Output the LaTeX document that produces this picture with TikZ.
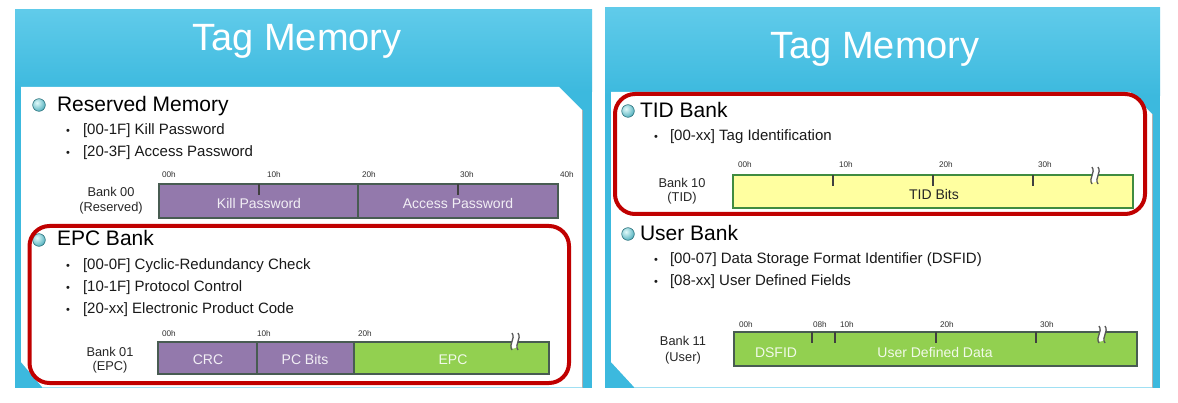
\documentclass[tikz,border=0pt]{standalone}
\usepackage{fontspec}
\setmainfont{Liberation Sans}
\definecolor{hdtop}{RGB}{96,203,234}
\definecolor{hdbot}{RGB}{60,185,222}
\definecolor{redframe}{RGB}{192,0,0}
\definecolor{purp}{RGB}{147,121,172}
\definecolor{grn}{RGB}{146,208,80}
\definecolor{yel}{RGB}{255,255,160}
\definecolor{barline}{RGB}{72,92,82}
\definecolor{ballc}{RGB}{70,170,185}
\definecolor{ballhi}{RGB}{225,250,250}
\definecolor{ballrim}{RGB}{45,115,125}
\tikzset{
 titletxt/.style={font=\fontsize{38}{40}\selectfont, text=white, anchor=base},
 headtxt/.style={font=\fontsize{21}{24}\selectfont, text=black, anchor=base west},
 itemtxt/.style={font=\fontsize{15}{18}\selectfont, text=black!90, anchor=base west},
 dottxt/.style={font=\fontsize{11}{12}\selectfont, text=black!90, anchor=base west},
 hextxt/.style={font=\fontsize{8.2}{9}\selectfont, text=black!80, anchor=base west},
 banktxt/.style={font=\fontsize{12.8}{14}\selectfont, text=black!85, anchor=base},
 barlbl/.style={font=\fontsize{14}{16}\selectfont, text=white, text opacity=0.88, anchor=base},
 darklbl/.style={font=\fontsize{14}{16}\selectfont, text=black!85, anchor=base},
 barfrm/.style={draw=barline, line width=1.4},
 tickln/.style={draw=black!75, line width=1.5},
 redfrm/.style={draw=redframe, line width=4, rounded corners=20},
 breakln/.style={draw=black!65, line width=1.3},
 breakbg/.style={draw=white, line width=5},
}
\newcommand{\ballbullet}[2]{%
  \begin{scope}
    \clip (#1,#2) circle (6.3);
    \shade[inner color=ballhi, outer color=ballc] (#1-2,#2-2.2) circle (9.5);
  \end{scope}
  \draw[ballrim, line width=0.6] (#1,#2) circle (6.3);}
\newcommand{\breakmark}[3]{% x, ytop, ybottom
  \draw[breakbg] (#1+3,#2+2) .. controls (#1+7,#2+6) and (#1-1,#3-6) .. (#1+3,#3-2);
  \draw[breakln] (#1,#2) .. controls (#1+4,#2+6) and (#1-4,#3-6) .. (#1,#3);
  \draw[breakln] (#1+6,#2) .. controls (#1+10,#2+6) and (#1+2,#3-6) .. (#1+6,#3);}
\begin{document}
\begin{tikzpicture}[x=1pt,y=-1pt, every node/.style={inner sep=0pt, outer sep=0pt}]
\useasboundingbox (0,0) rectangle (1178,403);
\fill[white] (0,0) rectangle (1178,403);

% ===== Left panel =====
\fill[hdbot] (15,10) rectangle (592,388);
\shade[top color=hdtop, bottom color=hdbot] (15,10) rectangle (592,92);
\fill[white] (21,87) -- (559,87) -- (582,110) -- (582,388) -- (43,388) -- (21,362) -- cycle;
\draw[black!30, line width=0.8] (582.4,110) -- (582.4,388);
\draw[hdtop!60, line width=1] (43,387.5) -- (582,387.5);
\node[titletxt] (lt) at (297,51) {Tag Memory};

\ballbullet{39}{105}
\node[headtxt] (rm) at (57,112) {Reserved Memory};
\node[dottxt] (rmd1) at (66,135) {•};
\node[itemtxt] (rm1) at (83,135) {[00-1F] Kill Password};
\node[dottxt] (rmd2) at (66,157) {•};
\node[itemtxt] (rm2) at (83,157) {[20-3F] Access Password};

\node[hextxt] (r00) at (162,178) {00h};
\node[hextxt] (r10) at (267,178) {10h};
\node[hextxt] (r20) at (362,178) {20h};
\node[hextxt] (r30) at (460,178) {30h};
\node[hextxt] (r40) at (560,178) {40h};
\fill[purp] (159,184) rectangle (558,218);
\draw[barfrm] (159,184) rectangle (558,218);
\draw[barfrm] (358,184) -- (358,218);
\draw[tickln] (259,184) -- (259,195);
\draw[tickln] (458,184) -- (458,195);
\node[barlbl] (kp) at (259,209) {Kill Password};
\node[barlbl] (ap) at (458,209) {Access Password};
\node[banktxt] (b00) at (111,197) {Bank 00};
\node[banktxt] (b00b) at (111,212) {(Reserved)};

\ballbullet{39}{240}
\node[headtxt] (eb) at (57,246) {EPC Bank};
\node[dottxt] (ebd1) at (66,270) {•};
\node[itemtxt] (eb1) at (83,270) {[00-0F] Cyclic-Redundancy Check};
\node[dottxt] (ebd2) at (66,292) {•};
\node[itemtxt] (eb2) at (83,292) {[10-1F] Protocol Control};
\node[dottxt] (ebd3) at (66,313) {•};
\node[itemtxt] (eb3) at (83,313) {[20-xx] Electronic Product Code};

\node[hextxt] (e00) at (162,337) {00h};
\node[hextxt] (e10) at (257,337) {10h};
\node[hextxt] (e20) at (358,337) {20h};
\fill[purp] (158,342) rectangle (354,374);
\fill[grn] (354,342) rectangle (549,374);
\draw[barfrm] (158,342) rectangle (549,374);
\draw[barfrm] (257,342) -- (257,374);
\draw[barfrm] (354,342) -- (354,374);
\node[barlbl] (crc) at (208,364) {CRC};
\node[barlbl] (pcb) at (305,364) {PC Bits};
\node[barlbl] (epc) at (453,364) {EPC};
\breakmark{512}{333}{350}
\node[banktxt] (b01) at (110,356) {Bank 01};
\node[banktxt] (b01b) at (110,370) {(EPC)};

\draw[redfrm] (29.5,226) rectangle (569,383);

% ===== Right panel =====
\fill[hdbot] (605,8) rectangle (1160,388);
\shade[top color=hdtop, bottom color=hdbot] (605,8) rectangle (1160,96);
\fill[white] (611,92) -- (1130,92) -- (1152,114) -- (1152,388) -- (635,388) -- (611,362) -- cycle;
\draw[black!30, line width=0.8] (1152.4,114) -- (1152.4,388);
\draw[hdtop!60, line width=1] (635,387.5) -- (1152,387.5);
\node[titletxt] (rt) at (875,59) {Tag Memory};

\ballbullet{628}{111}
\node[headtxt] (tb) at (640,118) {TID Bank};
\node[dottxt] (tbd1) at (654,141) {•};
\node[itemtxt] (tb1) at (670,141) {[00-xx] Tag Identification};

\node[hextxt] (t00) at (738,168) {00h};
\node[hextxt] (t10) at (839,168) {10h};
\node[hextxt] (t20) at (939,168) {20h};
\node[hextxt] (t30) at (1038,168) {30h};
\fill[yel] (733,175) rectangle (1133,208);
\draw[barfrm, draw=black!40!green!50!gray] (733,175) rectangle (1133,208);
\draw[tickln] (833,175) -- (833,186);
\draw[tickln] (933,175) -- (933,186);
\draw[tickln] (1033,175) -- (1033,186);
\node[darklbl] (tidb) at (934,200) {TID Bits};
\breakmark{1092}{167}{184}
\node[banktxt] (b10) at (682,188) {Bank 10};
\node[banktxt] (b10b) at (682,202) {(TID)};

\draw[redfrm] (615,94) rectangle (1145,214);

\ballbullet{628}{234}
\node[headtxt] (ub) at (640,241) {User Bank};
\node[dottxt] (ubd1) at (654,264) {•};
\node[itemtxt] (ub1) at (670,264) {[00-07] Data Storage Format Identifier (DSFID)};
\node[dottxt] (ubd2) at (654,286) {•};
\node[itemtxt] (ub2) at (670,286) {[08-xx] User Defined Fields};

\node[hextxt] (u00) at (739,327) {00h};
\node[hextxt] (u08) at (813,327) {08h};
\node[hextxt] (u10) at (840,327) {10h};
\node[hextxt] (u20) at (940,327) {20h};
\node[hextxt] (u30) at (1040,327) {30h};
\fill[grn] (734,332) rectangle (1137,366);
\draw[barfrm] (734,332) rectangle (1137,366);
\draw[tickln] (812,332) -- (812,343);
\draw[tickln] (835,332) -- (835,343);
\draw[tickln] (936,332) -- (936,343);
\draw[tickln] (1036,332) -- (1036,343);
\node[barlbl] (dsf) at (776,357) {DSFID};
\node[barlbl] (udd) at (935,357) {User Defined Data};
\breakmark{1099}{326}{343}
\node[banktxt] (b11) at (683,345) {Bank 11};
\node[banktxt] (b11b) at (683,361) {(User)};
\end{tikzpicture}
\end{document}
